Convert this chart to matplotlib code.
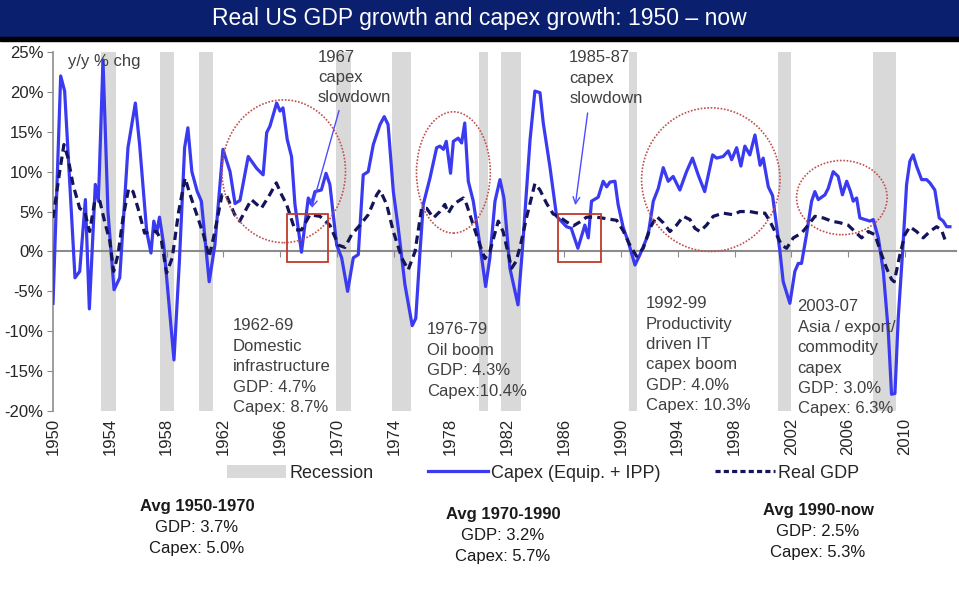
import matplotlib
matplotlib.use("Agg")
import matplotlib.pyplot as plt
from matplotlib.patches import Ellipse, Rectangle, Patch
from matplotlib.lines import Line2D
from matplotlib.ticker import MultipleLocator, FuncFormatter

plt.rcParams['font.family'] = ['Liberation Sans', 'DejaVu Sans']

# capex (equipment + IPP), y/y % change
capex_year = [1950.0, 1950.54, 1950.82, 1951.55, 1951.88, 1952.28, 1952.56, 1952.98, 1953.2, 1953.52,
              1953.87, 1954.3, 1954.7, 1955.28, 1955.8, 1956.1, 1956.6, 1956.9, 1957.1, 1957.3,
              1957.5, 1957.8, 1958.52, 1958.9, 1959.27, 1959.5, 1959.78, 1960.16, 1960.45, 1961.0,
              1961.4, 1961.97, 1962.47, 1962.82, 1963.17, 1963.75, 1964.35, 1964.8, 1965.05, 1965.28,
              1965.75, 1965.99, 1966.2, 1966.5, 1966.8, 1967.04, 1967.5, 1967.98, 1968.2, 1968.45,
              1968.9, 1969.23, 1969.5, 1969.98, 1970.33, 1970.75, 1971.15, 1971.5, 1971.85, 1972.2,
              1972.56, 1973.03, 1973.33, 1973.6, 1973.97, 1974.32, 1974.79, 1975.3, 1975.55, 1975.85,
              1976.08, 1976.55, 1977.02, 1977.25, 1977.5, 1977.7, 1978.0, 1978.2, 1978.54, 1978.78,
              1979.0, 1979.25, 1979.6, 1980.07, 1980.47, 1980.77, 1981.13, 1981.48, 1981.76, 1982.18,
              1982.75, 1983.05, 1983.6, 1983.94, 1984.3, 1984.53, 1985.0, 1985.47, 1986.17, 1986.5,
              1986.97, 1987.46, 1987.7, 1987.93, 1988.4, 1988.75, 1989.0, 1989.23, 1989.58, 1989.8,
              1990.16, 1990.5, 1990.99, 1991.34, 1991.92, 1992.28, 1992.63, 1992.98, 1993.33, 1993.68,
              1994.15, 1994.62, 1995.04, 1995.44, 1995.9, 1996.46, 1996.74, 1997.2, 1997.56, 1997.8,
              1998.15, 1998.45, 1998.73, 1999.08, 1999.44, 1999.8, 2000.02, 2000.38, 2000.68, 2001.2,
              2001.43, 2001.9, 2002.25, 2002.49, 2002.72, 2003.07, 2003.43, 2003.66, 2003.9, 2004.37,
              2004.6, 2004.95, 2005.3, 2005.6, 2005.9, 2006.17, 2006.36, 2006.6, 2006.83, 2007.18,
              2007.54, 2007.77, 2008.13, 2008.48, 2008.83, 2009.06, 2009.3, 2009.53, 2009.84, 2010.12,
              2010.35, 2010.58, 2010.82, 2011.18, 2011.53, 2011.76, 2012.11, 2012.42, 2012.7, 2012.94,
              2013.17]
capex_val = [-6.5, 22.0, 20.1, -3.3, -2.5, 6.5, -7.2, 8.4, 6.3, 24.0,
             5.0, -4.8, -3.3, 13.0, 18.6, 13.4, 2.5, -0.2, 3.8, 2.3,
             4.3, 0.8, -13.6, -1.3, 13.0, 15.5, 10.0, 7.5, 6.3, -3.8,
             0.8, 12.8, 10.0, 6.0, 6.4, 11.9, 10.4, 9.6, 14.9, 15.7,
             18.6, 17.6, 18.0, 14.0, 11.9, 5.9, -0.1, 6.7, 5.9, 7.5,
             7.7, 9.8, 8.4, 0.8, -0.8, -5.0, -0.8, -0.4, 9.6, 10.0,
             13.4, 15.9, 16.9, 15.9, 7.5, 2.9, -4.2, -9.3, -8.4, 0.0,
             5.9, 9.2, 13.0, 13.2, 12.8, 13.8, 9.8, 13.8, 14.2, 13.6,
             16.1, 8.8, 6.3, 0.8, -4.4, -0.8, 6.3, 9.0, 6.7, -2.1,
             -6.7, 0.0, 14.0, 20.1, 19.9, 16.1, 10.6, 4.4, 3.1, 2.9,
             0.4, 3.3, 1.7, 6.3, 6.8, 8.8, 8.1, 8.7, 8.8, 5.9,
             3.0, 1.3, -1.7, -0.4, 2.1, 6.3, 7.9, 10.5, 8.8, 9.4,
             7.7, 10.0, 11.7, 9.6, 7.5, 12.1, 11.7, 11.9, 12.6, 11.5,
             13.0, 10.7, 13.2, 12.1, 14.6, 10.8, 11.7, 8.1, 7.0, 0.0,
             -3.8, -6.5, -2.5, -1.5, -1.5, 2.1, 6.3, 7.5, 6.5, 7.1,
             7.9, 10.0, 9.4, 7.1, 8.8, 7.5, 6.3, 6.7, 4.2, 4.0,
             3.8, 4.0, 1.7, -2.5, -10.0, -17.9, -17.8, -8.4, 0.0, 8.4,
             11.3, 12.1, 10.7, 9.0, 9.0, 8.6, 7.7, 4.2, 3.8, 3.1,
             3.1]

# real GDP, y/y % change
gdp_year = [1950.0, 1950.47, 1950.77, 1951.06, 1951.41, 1951.88, 1952.23, 1952.58, 1952.94, 1953.3,
            1953.63, 1954.0, 1954.27, 1954.58, 1954.93, 1955.33, 1955.64, 1955.99, 1956.45, 1956.92,
            1957.3, 1957.64, 1958.0, 1958.4, 1958.85, 1959.3, 1959.66, 1960.13, 1960.6, 1961.0,
            1961.4, 1961.9, 1962.2, 1962.8, 1963.15, 1963.97, 1964.67, 1965.26, 1965.73, 1966.1,
            1966.45, 1967.04, 1967.5, 1968.1, 1968.8, 1969.5, 1970.1, 1970.56, 1971.03, 1971.62,
            1972.2, 1972.8, 1973.03, 1973.5, 1973.97, 1974.56, 1975.02, 1975.5, 1975.96, 1976.32,
            1976.79, 1977.25, 1977.6, 1977.84, 1978.2, 1978.54, 1978.9, 1979.13, 1979.6, 1980.07,
            1980.42, 1980.77, 1981.36, 1981.7, 1982.3, 1982.6, 1982.89, 1983.36, 1983.94, 1984.3,
            1984.77, 1985.23, 1985.7, 1986.17, 1986.64, 1987.11, 1987.58, 1988.29, 1989.0, 1989.7,
            1990.16, 1990.6, 1991.1, 1991.57, 1992.04, 1992.51, 1992.98, 1993.45, 1993.92, 1994.39,
            1994.86, 1995.21, 1995.56, 1996.03, 1996.5, 1997.2, 1997.91, 1998.38, 1999.08, 1999.67,
            2000.14, 2000.49, 2000.96, 2001.32, 2001.67, 2002.14, 2002.72, 2003.19, 2003.66, 2004.25,
            2004.84, 2005.42, 2006.0, 2006.48, 2006.95, 2007.42, 2007.89, 2008.36, 2008.71, 2009.06,
            2009.25, 2009.65, 2010.0, 2010.35, 2010.82, 2011.29, 2011.76, 2012.23, 2012.58, 2012.82]
gdp_val = [4.2, 10.0, 13.4, 11.7, 8.4, 5.4, 5.0, 2.5, 6.3, 6.3,
           3.8, 1.3, -2.5, -0.4, 4.2, 7.9, 7.5, 5.4, 2.3, 2.5,
           2.5, 1.3, -2.7, -0.8, 5.0, 9.2, 7.1, 4.6, 2.1, -0.7,
           2.5, 7.1, 7.1, 4.6, 3.8, 6.5, 5.4, 7.1, 8.6, 7.1,
           5.9, 2.7, 2.7, 4.6, 4.4, 3.3, 0.8, 0.5, 2.1, 3.3,
           4.6, 7.1, 7.7, 5.9, 2.5, -0.8, -2.3, 0.0, 5.4, 5.4,
           4.2, 5.0, 5.9, 4.8, 5.9, 6.3, 6.7, 5.9, 3.3, 0.8,
           -0.9, 0.0, 3.8, 2.5, -2.1, -1.3, 0.5, 4.3, 8.5, 7.7,
           6.0, 4.7, 4.3, 3.7, 3.2, 3.7, 4.3, 4.3, 4.1, 3.9,
           2.6, 0.9, -0.6, 0.4, 2.9, 4.4, 3.6, 2.5, 3.3, 4.4,
           4.0, 2.9, 2.5, 3.3, 4.4, 4.8, 4.6, 5.0, 5.0, 4.8,
           4.8, 3.8, 2.1, 0.8, 0.4, 1.7, 2.3, 3.3, 4.4, 4.2,
           3.8, 3.6, 3.3, 2.5, 1.7, 2.5, 2.1, -0.4, -2.1, -3.5,
           -3.8, -0.4, 2.1, 3.1, 2.5, 1.7, 2.5, 3.1, 2.7, 1.5]

# NBER recessions
rec_start = [1953.4, 1957.55, 1960.3, 1969.9, 1973.85, 1980.0, 1981.55, 1990.55, 2001.05, 2007.75]
rec_end = [1954.45, 1958.5, 1961.25, 1971.0, 1975.2, 1980.65, 1982.95, 1991.15, 2002.0, 2009.4]

x_ticks = list(range(1950, 2013, 4))

TXT = '#404040'
BLUE = '#3a3af0'
NAVY = '#14145a'

fig = plt.figure(figsize=(9.59, 5.91), dpi=100)
ax = fig.add_axes([53 / 959, 1 - 411 / 591, 903 / 959, 359 / 591])

# title banner
fig.add_artist(Rectangle((0, 1 - 37 / 591), 1, 37 / 591, transform=fig.transFigure,
                         color='#0b1f6f', zorder=0))
fig.add_artist(Rectangle((0, 1 - 41 / 591), 1, 4 / 591, transform=fig.transFigure,
                         color='black', zorder=0))
fig.text(0.5, 1 - 19 / 591, 'Real US GDP growth and capex growth: 1950 \u2013 now',
         color='white', fontsize=16.5, ha='center', va='center')

for s, e in zip(rec_start, rec_end):
    ax.axvspan(s, e, color='#d9d9d9', lw=0, zorder=0)

ax.plot(capex_year, capex_val, color=BLUE, lw=2.3, zorder=3)
ax.plot(gdp_year, gdp_val, color=NAVY, lw=2.3, ls=(0, (2.6, 1.6)), zorder=4)

ax.set_xlim(1950, 2013.6)
ax.set_ylim(-20, 25)
ax.yaxis.set_major_locator(MultipleLocator(5))
ax.yaxis.set_major_formatter(FuncFormatter(lambda v, p: f'{v:.0f}%'))
for side in ['top', 'right']:
    ax.spines[side].set_visible(False)
ax.spines['left'].set_color('#8c8c8c')
ax.spines['left'].set_linewidth(1.2)
ax.spines['bottom'].set_position(('data', 0))
ax.spines['bottom'].set_color('#8c8c8c')
ax.spines['bottom'].set_linewidth(1.5)
ax.tick_params(axis='y', length=4, color='#8c8c8c', labelsize=12, labelcolor='#262626', pad=3)
ax.set_xticks(x_ticks)
ax.tick_params(axis='x', length=4, color='#8c8c8c', labelbottom=False)

sec = ax.secondary_xaxis('bottom')
sec.set_xticks(x_ticks, labels=[str(y) for y in x_ticks])
sec.tick_params(length=0, labelsize=12, labelcolor='#262626', rotation=90, pad=5)
sec.spines['bottom'].set_visible(False)

# dotted circles and boxes
circle_kw = dict(fill=False, edgecolor='#c0504d', lw=1.2, ls=(0, (1, 1)), zorder=5)
ax.add_patch(Ellipse((1966.25, 10.05), 8.7, 17.9, **circle_kw))
ax.add_patch(Ellipse((1978.2, 9.9), 5.2, 15.2, **circle_kw))
ax.add_patch(Ellipse((1996.33, 9.0), 9.75, 18.0, **circle_kw))
ax.add_patch(Ellipse((2005.56, 6.75), 6.38, 9.3, **circle_kw))
box_kw = dict(fill=False, edgecolor='#c0392b', lw=1.3, zorder=5)
ax.add_patch(Rectangle((1966.46, -1.3), 2.91, 6.0, **box_kw))
ax.add_patch(Rectangle((1985.58, -1.3), 3.02, 6.0, **box_kw))

arrow_kw = dict(arrowstyle='->', color='#4d4dff', lw=1.0, mutation_scale=12)
ax.annotate('', xy=(1968.17, 5.1), xytext=(1970.2, 18.0), arrowprops=arrow_kw, zorder=6)
ax.annotate('', xy=(1986.76, 5.45), xytext=(1987.68, 17.7), arrowprops=arrow_kw, zorder=6)

note_kw = dict(fontsize=12, color=TXT, ha='left', va='top', linespacing=1.45, zorder=6)
ax.text(1951.06, 23.8, 'y/y % chg', fontsize=12, color=TXT, ha='left', va='center')
ax.text(1968.66, 25.3, '1967\ncapex\nslowdown', **note_kw)
ax.text(1986.36, 25.2, '1985-87\ncapex\nslowdown', **note_kw)
ax.text(1962.68, -8.4, '1962-69\nDomestic\ninfrastructure\nGDP: 4.7%\nCapex: 8.7%', **note_kw)
ax.text(1976.32, -8.9, '1976-79\nOil boom\nGDP: 4.3%\nCapex:10.4%', **note_kw)
ax.text(1991.76, -5.6, '1992-99\nProductivity\ndriven IT\ncapex boom\nGDP: 4.0%\nCapex: 10.3%', **note_kw)
ax.text(2002.44, -6.0, '2003-07\nAsia / export/\ncommodity\ncapex\nGDP: 3.0%\nCapex: 6.3%', **note_kw)

handles = [Patch(facecolor='#d9d9d9', edgecolor='none'),
           Line2D([], [], color=BLUE, lw=2.3),
           Line2D([], [], color=NAVY, lw=2.3, ls=(0, (1.6, 1.0)))]
fig.legend(handles, ['Recession', 'Capex (Equip. + IPP)', 'Real GDP'],
           loc='center', bbox_to_anchor=(543 / 959, 1 - 473 / 591), ncol=3, frameon=False,
           fontsize=13, handlelength=3.3, columnspacing=3.0,
           handletextpad=0.2, labelcolor='#262626')

avg_blocks = [(197, 507, 'Avg 1950-1970', 'GDP: 3.7%', 'Capex: 5.0%'),
              (503, 515, 'Avg 1970-1990', 'GDP: 3.2%', 'Capex: 5.7%'),
              (818, 510, 'Avg 1990-now', 'GDP: 2.5%', 'Capex: 5.3%')]
for x, y, head, g, c in avg_blocks:
    fig.text(x / 959, 1 - y / 591, head, fontsize=12, weight='bold', ha='center', va='center',
             color='#1a1a1a')
    fig.text(x / 959, 1 - (y + 21) / 591, g, fontsize=12, ha='center', va='center',
             color='#1a1a1a')
    fig.text(x / 959, 1 - (y + 42) / 591, c, fontsize=12, ha='center', va='center',
             color='#1a1a1a')

fig.savefig('out.png', dpi=100)
